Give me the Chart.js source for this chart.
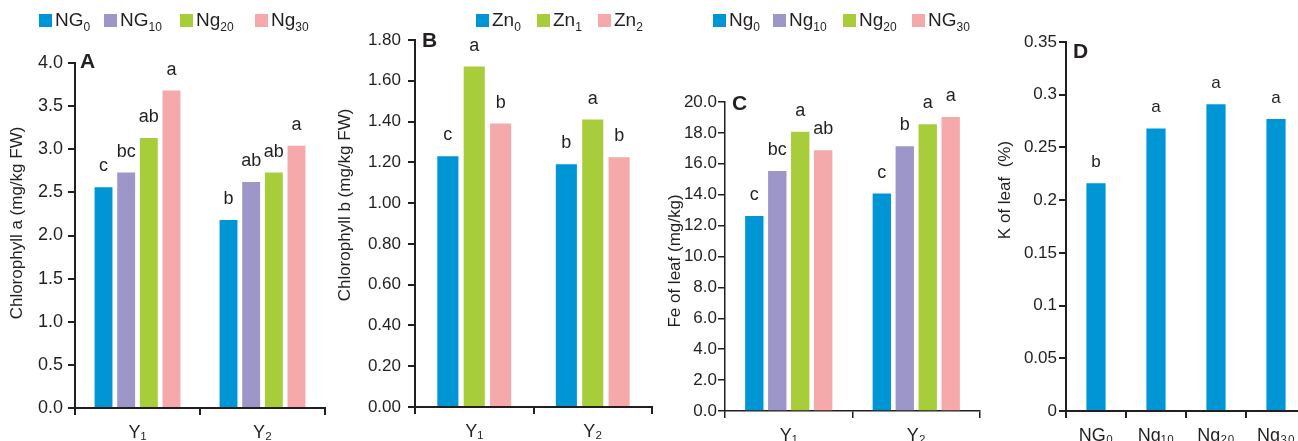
<!DOCTYPE html>
<html>
<head>
<meta charset="utf-8">
<script src="https://cdn.jsdelivr.net/npm/chart.js@4.4.0/dist/chart.umd.min.js"></script>
<style>
  html, body { margin: 0; padding: 0; background: #fff; overflow: hidden; }
  #wrap { position: relative; width: 1298px; height: 441px; overflow: hidden; }
  #wrap canvas { position: absolute; top: 0; }
  .legend-item {
    position: absolute; white-space: nowrap;
    font-family: 'Liberation Sans', Arial, sans-serif; font-size: 19px; line-height: 22px; color: #231f20;
  }
  .legend-item i { display: inline-block; width: 13px; height: 13px; margin-right: 3px; vertical-align: -1px; }
  .legend-item sub { font-size: 12px; line-height: 0; vertical-align: -5px; }
</style>
</head>
<body>
<div id="wrap">
  <canvas id="chartA" width="330" height="441" style="left:0px"></canvas>
  <canvas id="chartB" width="330" height="441" style="left:330px"></canvas>
  <canvas id="chartC" width="330" height="441" style="left:660px"></canvas>
  <canvas id="chartD" width="330" height="441" style="left:990px"></canvas>
</div>
<script>
// shared categories
const yearLabels = ['Y₁', 'Y₂'];

// A - chlorophyll a
const seriesA = ['NG₀', 'NG₁₀', 'Ng₂₀', 'Ng₃₀'];
const chlA_NG0 = [2.56, 2.18];
const chlA_NG10 = [2.73, 2.62];
const chlA_Ng20 = [3.13, 2.73];
const chlA_Ng30 = [3.68, 3.04];
const lettersA_NG0 = ['c', 'b'];
const lettersA_NG10 = ['bc', 'ab'];
const lettersA_Ng20 = ['ab', 'ab'];
const lettersA_Ng30 = ['a', 'a'];
const ticksA = ['0.0', '0.5', '1.0', '1.5', '2.0', '2.5', '3.0', '3.5', '4.0'];

// B - chlorophyll b
const seriesB = ['Zn₀', 'Zn₁', 'Zn₂'];
const chlB_Zn0 = [1.23, 1.19];
const chlB_Zn1 = [1.67, 1.41];
const chlB_Zn2 = [1.39, 1.225];
const lettersB_Zn0 = ['c', 'b'];
const lettersB_Zn1 = ['a', 'a'];
const lettersB_Zn2 = ['b', 'b'];
const ticksB = ['0.00', '0.20', '0.40', '0.60', '0.80', '1.00', '1.20', '1.40', '1.60', '1.80'];

// C - Fe of leaf
const seriesC = ['Ng₀', 'Ng₁₀', 'Ng₂₀', 'NG₃₀'];
const fe_Ng0 = [12.62, 14.07];
const fe_Ng10 = [15.53, 17.13];
const fe_Ng20 = [18.08, 18.56];
const fe_NG30 = [16.87, 19.03];
const lettersC_Ng0 = ['c', 'c'];
const lettersC_Ng10 = ['bc', 'b'];
const lettersC_Ng20 = ['a', 'a'];
const lettersC_NG30 = ['ab', 'a'];
const ticksC = ['0.0', '2.0', '4.0', '6.0', '8.0', '10.0', '12.0', '14.0', '16.0', '18.0', '20.0'];

// D - K of leaf
const categoriesD = ['NG₀', 'Ng₁₀', 'Ng₂₀', 'Ng₃₀'];
const kLeaf = [0.216, 0.268, 0.291, 0.277];
const lettersD = ['b', 'a', 'a', 'a'];
const ticksD = ['0', '0.05', '0.1', '0.15', '0.2', '0.25', '0.3', '0.35'];

const ink = '#231f20';
const fontFamily = "'Liberation Sans', Arial, sans-serif";
const blue = '#0096d6', purple = '#9d96c9', green = '#a7ce3a', pink = '#f5a9aa';

// letters above each bar
const barLetters = {
    id: 'barLetters',
    afterDatasetsDraw(chart, args, opts) {
        const ctx = chart.ctx;
        ctx.save();
        ctx.font = opts.size + 'px ' + fontFamily;
        ctx.fillStyle = ink;
        ctx.textAlign = 'center';
        ctx.textBaseline = 'alphabetic';
        chart.data.datasets.forEach((ds, i) => {
            chart.getDatasetMeta(i).data.forEach((bar, j) => {
                ctx.fillText(ds.letters[j], bar.x, bar.y - 16);
            });
        });
        ctx.restore();
    }
};

// panel letter and rotated y title
const panelText = {
    id: 'panelText',
    afterDraw(chart, args, opts) {
        const {ctx, chartArea} = chart;
        ctx.save();
        ctx.fillStyle = ink;
        ctx.font = 'bold 21px ' + fontFamily;
        ctx.textAlign = 'left';
        ctx.textBaseline = 'alphabetic';
        ctx.fillText(opts.letter, chartArea.left + opts.letterDx, chartArea.top + opts.letterDy);
        ctx.translate(opts.titleX, opts.titleY);
        ctx.rotate(-Math.PI / 2);
        ctx.font = '17px ' + fontFamily;
        ctx.textAlign = 'center';
        ctx.textBaseline = 'middle';
        ctx.fillText(opts.title, 0, 0);
        ctx.restore();
    }
};

function htmlLegend(chart, xs, top) {
    const wrap = document.getElementById('wrap');
    chart.data.datasets.forEach((ds, i) => {
        const item = document.createElement('div');
        item.className = 'legend-item';
        item.style.left = xs[i] + 'px';
        item.style.top = top + 'px';
        const text = ds.label.replace(/[₀-₉]+/g, s =>
            '<sub>' + Array.from(s).map(c => c.charCodeAt(0) - 0x2080).join('') + '</sub>');
        item.innerHTML = '<i style="background:' + ds.backgroundColor + '"></i>' + text;
        wrap.appendChild(item);
    });
}

function makePanel(id, p) {
    return new Chart(document.getElementById(id), {
        type: 'bar',
        data: { labels: p.labels, datasets: p.datasets },
        options: {
            responsive: false,
            animation: false,
            layout: { padding: { left: 0, right: p.padRight, top: p.padTop, bottom: 0 } },
            datasets: { bar: { categoryPercentage: p.catPct, barPercentage: p.barPct } },
            plugins: {
                legend: { display: false },
                tooltip: { enabled: false },
                barLetters: { size: p.letterSize },
                panelText: p.text
            },
            scales: {
                x: {
                    afterFit: s => { s.height = p.xHeight; },
                    grid: { offset: true, drawOnChartArea: false, tickLength: 7, color: ink, lineWidth: p.lineWidth },
                    border: { color: ink, width: p.lineWidth },
                    ticks: { color: ink, padding: 7, font: { family: fontFamily, size: 18 } }
                },
                y: {
                    min: 0,
                    max: parseFloat(p.ticks[p.ticks.length - 1]),
                    afterFit: s => { s.width = p.axisWidth; },
                    afterBuildTicks: s => { s.ticks = p.ticks.map(t => ({ value: parseFloat(t) })); },
                    grid: { drawOnChartArea: false, tickLength: 7, color: ink, lineWidth: p.lineWidth },
                    border: { color: ink, width: p.lineWidth },
                    ticks: {
                        color: ink,
                        padding: p.tickPad,
                        font: { family: fontFamily, size: p.tickSize },
                        callback: (v, i) => p.ticks[i]
                    }
                }
            }
        },
        plugins: [barLetters, panelText]
    });
}

const chartA = makePanel('chartA', {
    labels: yearLabels,
    datasets: [chlA_NG0, chlA_NG10, chlA_Ng20, chlA_Ng30].map((data, i) => ({
        label: seriesA[i], data,
        letters: [lettersA_NG0, lettersA_NG10, lettersA_Ng20, lettersA_Ng30][i],
        backgroundColor: [blue, purple, green, pink][i]
    })),
    ticks: ticksA, tickSize: 18, tickPad: 5, letterSize: 18,
    axisWidth: 75, padRight: 5, padTop: 63, xHeight: 33, lineWidth: 2,
    catPct: 0.725, barPct: 0.79,
    text: { letter: 'A', letterDx: 5, letterDy: 5, title: 'Chlorophyll a (mg/kg FW)', titleX: 17, titleY: 223 }
});
htmlLegend(chartA, [39, 104, 180, 255], 9);

const chartB = makePanel('chartB', {
    labels: yearLabels,
    datasets: [chlB_Zn0, chlB_Zn1, chlB_Zn2].map((data, i) => ({
        label: seriesB[i], data,
        letters: [lettersB_Zn0, lettersB_Zn1, lettersB_Zn2][i],
        backgroundColor: [blue, green, pink][i]
    })),
    ticks: ticksB, tickSize: 17, tickPad: 7, letterSize: 18,
    axisWidth: 85, padRight: 8, padTop: 40, xHeight: 34, lineWidth: 2,
    catPct: 0.668, barPct: 0.8,
    text: { letter: 'B', letterDx: 7, letterDy: 7, title: 'Chlorophyll b (mg/kg FW)', titleX: 15, titleY: 205 }
});
htmlLegend(chartB, [476, 537, 598], 9);

const chartC = makePanel('chartC', {
    labels: yearLabels,
    datasets: [fe_Ng0, fe_Ng10, fe_Ng20, fe_NG30].map((data, i) => ({
        label: seriesC[i], data,
        letters: [lettersC_Ng0, lettersC_Ng10, lettersC_Ng20, lettersC_NG30][i],
        backgroundColor: [blue, purple, green, pink][i]
    })),
    ticks: ticksC, tickSize: 17, tickPad: 1, letterSize: 18,
    axisWidth: 65, padRight: 10, padTop: 102, xHeight: 30, lineWidth: 1.5,
    catPct: 0.72, barPct: 0.8,
    text: { letter: 'C', letterDx: 7, letterDy: 8, title: 'Fe of leaf (mg/kg)', titleX: 15, titleY: 261 }
});
htmlLegend(chartC, [713, 773, 843, 912], 9);

makePanel('chartD', {
    labels: categoriesD,
    datasets: [{ label: 'K of leaf', data: kLeaf, letters: lettersD, backgroundColor: blue }],
    ticks: ticksD, tickSize: 17, tickPad: 2, letterSize: 17,
    axisWidth: 76, padRight: 14, padTop: 42, xHeight: 30, lineWidth: 2,
    catPct: 0.8, barPct: 0.4,
    text: { letter: 'D', letterDx: 7, letterDy: 16, title: 'K of leaf  (%)', titleX: 15, titleY: 190 }
});
</script>
</body>
</html>
